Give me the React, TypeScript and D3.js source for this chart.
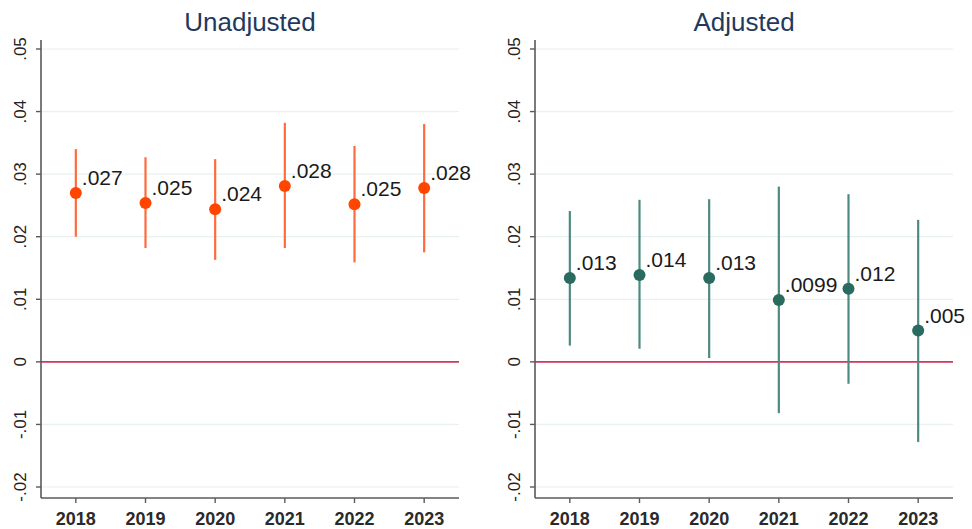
import React from "react";
import * as d3 from "d3";

const years = [2018, 2019, 2020, 2021, 2022, 2023];
const yTicks = [0.05, 0.04, 0.03, 0.02, 0.01, 0, -0.01, -0.02];
const yTickLabels = [".05", ".04", ".03", ".02", ".01", "0", "-.01", "-.02"];

const unadjEst = [0.027, 0.0254, 0.0244, 0.0281, 0.0252, 0.0278];
const unadjLo = [0.02, 0.0182, 0.0163, 0.0182, 0.0159, 0.0175];
const unadjHi = [0.034, 0.0327, 0.0324, 0.0382, 0.0345, 0.038];
const unadjLabels = [".027", ".025", ".024", ".028", ".025", ".028"];

const adjEst = [0.0134, 0.0139, 0.0134, 0.0099, 0.0117, 0.005];
const adjLo = [0.0026, 0.0021, 0.0006, -0.0082, -0.0035, -0.0128];
const adjHi = [0.0241, 0.0259, 0.026, 0.028, 0.0268, 0.0227];
const adjLabels = [".013", ".014", ".013", ".0099", ".012", ".005"];

const width = 972;
const height = 529;
const top = 40;
const bottom = 498;

const y = d3.scaleLinear().domain([-0.02, 0.05]).range([487, 49]);

function Panel({ left, right, title, est, lo, hi, labels, dotColor, lineColor }) {
  const x = d3.scaleLinear().domain([2017.5, 2023.5]).range([left, right]);
  const font = "'Liberation Sans', Arial, sans-serif";
  return (
    <g>
      <text x={(left + right) / 2} y={31} textAnchor="middle" fontFamily={font} fontSize={26} fill="#1f3a5e">
        {title}
      </text>
      {yTicks.map((t) => (
        <line key={"g" + t} x1={left} x2={right} y1={y(t)} y2={y(t)} stroke="#e9f0f1" strokeWidth={1.2} />
      ))}
      <line x1={left} x2={right} y1={y(0)} y2={y(0)} stroke="#d8345c" strokeWidth={1.6} />
      {years.map((yr, i) => (
        <line key={"ci" + yr} x1={x(yr)} x2={x(yr)} y1={y(lo[i])} y2={y(hi[i])} stroke={lineColor} strokeWidth={2.2} />
      ))}
      {years.map((yr, i) => (
        <circle key={"pt" + yr} cx={x(yr)} cy={y(est[i])} r={6} fill={dotColor} />
      ))}
      {years.map((yr, i) => (
        <text key={"lb" + yr} x={x(yr) + 6} y={y(est[i]) - 8} fontFamily={font} fontSize={21} fill="#1a1a1a">
          {labels[i]}
        </text>
      ))}
      <line x1={left} x2={left} y1={top} y2={bottom} stroke="#5a5a5a" strokeWidth={1.6} />
      <line x1={left} x2={right} y1={bottom} y2={bottom} stroke="#5a5a5a" strokeWidth={1.6} />
      {yTicks.map((t, i) => (
        <g key={"yt" + t}>
          <line x1={left - 5} x2={left} y1={y(t)} y2={y(t)} stroke="#5a5a5a" strokeWidth={1.4} />
          <text
            transform={`translate(${left - 15.5},${y(t)}) rotate(-90)`}
            textAnchor="middle"
            fontFamily={font}
            fontSize={17}
            fill="#222"
          >
            {yTickLabels[i]}
          </text>
        </g>
      ))}
      {years.map((yr) => (
        <g key={"xt" + yr}>
          <line x1={x(yr)} x2={x(yr)} y1={bottom} y2={bottom + 5} stroke="#5a5a5a" strokeWidth={1.4} />
          <text x={x(yr)} y={525} textAnchor="middle" fontFamily={font} fontSize={18} fontWeight="bold" fill="#2a2a2a">
            {yr}
          </text>
        </g>
      ))}
    </g>
  );
}

export default function App() {
  return (
    <svg
      width={width}
      height={height}
      viewBox={`0 0 ${width} ${height}`}
      style={{ position: "absolute", left: 0, top: 0, background: "#fff" }}
    >
      <Panel
        left={41}
        right={459}
        title="Unadjusted"
        est={unadjEst}
        lo={unadjLo}
        hi={unadjHi}
        labels={unadjLabels}
        dotColor="#ff4500"
        lineColor="#ff6b3d"
      />
      <Panel
        left={535}
        right={953}
        title="Adjusted"
        est={adjEst}
        lo={adjLo}
        hi={adjHi}
        labels={adjLabels}
        dotColor="#2a6b5f"
        lineColor="#4d8a80"
      />
    </svg>
  );
}
